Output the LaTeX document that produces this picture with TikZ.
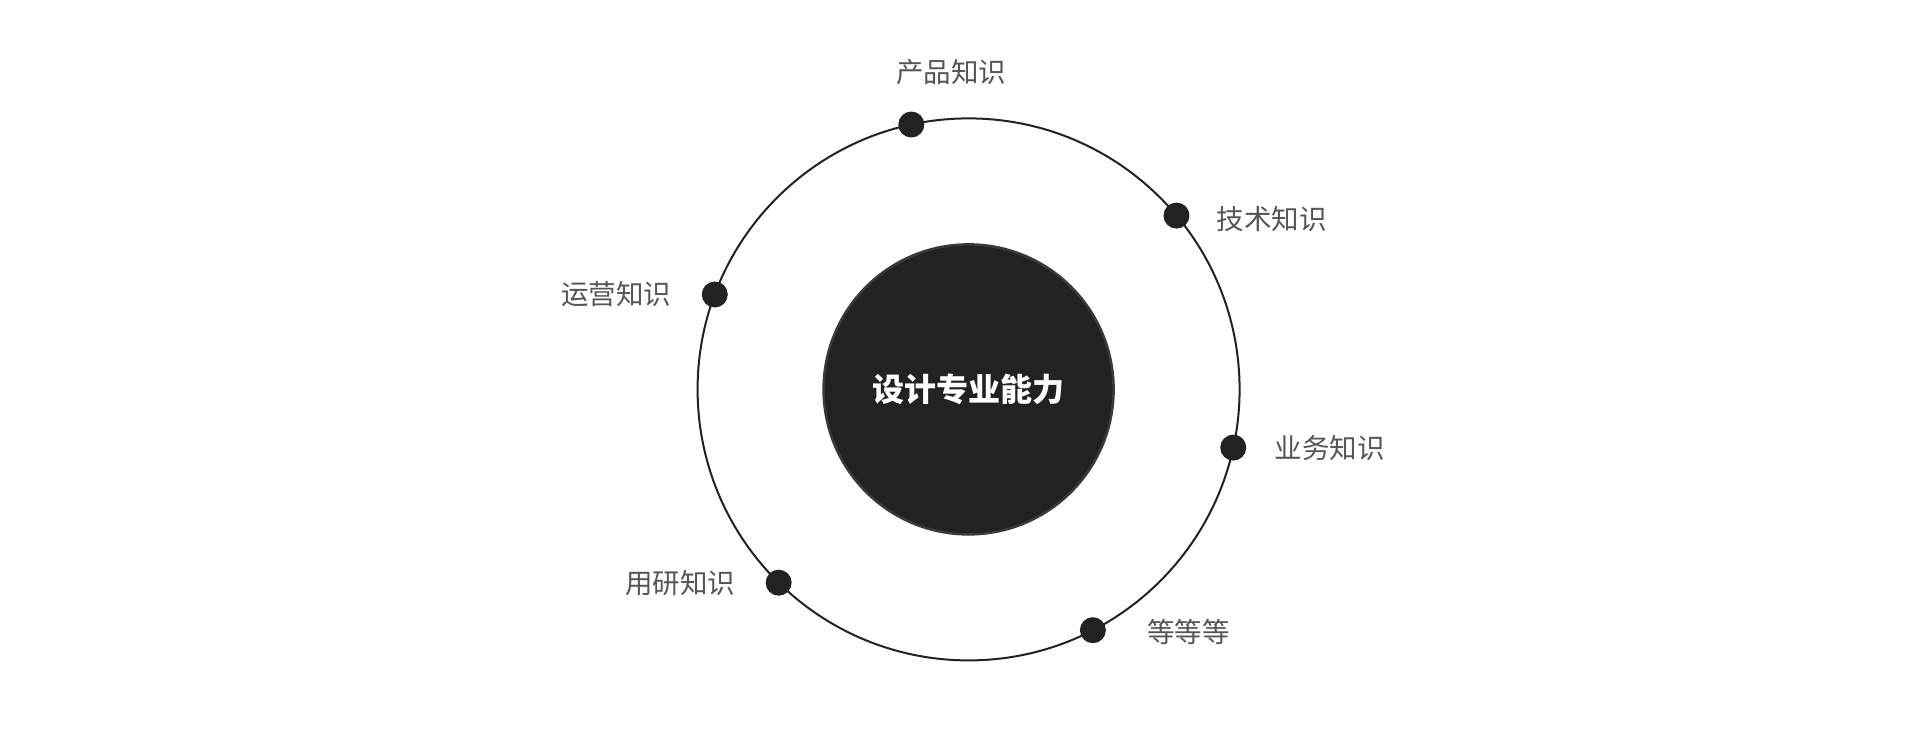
\documentclass[tikz,border=0pt]{standalone}
\usepackage{fontspec}
\newfontfamily\cjk{Noto Sans CJK SC}
\usetikzlibrary{positioning}
\definecolor{ink}{HTML}{222222}
\definecolor{rimgray}{HTML}{3A3A3A}
\definecolor{labelgray}{HTML}{555555}

\begin{document}
\begin{tikzpicture}[x=1pt, y=1pt,
    dot/.style={circle, fill=ink, minimum size=26pt, inner sep=0pt},
    topic/.style={font=\cjk\fontsize{27.5}{28}\selectfont, text=labelgray, inner sep=0pt},
    core/.style={circle, fill=ink, draw=rimgray, line width=2.5pt, minimum size=290pt,
        inner sep=0pt, text=white, font=\cjk\bfseries\fontsize{32}{33}\selectfont}]
    % ring radius
    \def\outerR{271}
    \useasboundingbox (-968.6,-360.6) rectangle (951.4,389.4);

    % outer ring
    \draw[ink, line width=2pt] (0,0) circle (\outerR);

    % core circle
    \node[core] (skill) at (0,0) {设计专业能力};

    % dots on the ring
    \node[dot] (product) at (102.2:\outerR) {};
    \node[dot] (tech) at (39.9:\outerR) {};
    \node[dot] (ops) at (159.5:\outerR) {};
    \node[dot] (biz) at (-12.4:\outerR) {};
    \node[dot] (research) at (225.5:\outerR) {};
    \node[dot] (etc) at (-62.7:\outerR) {};

    % labels
    \node[topic, above=26pt of product, xshift=40pt] (productText) {产品知识};
    \node[topic, right=27pt of tech, yshift=-3pt] (techText) {技术知识};
    \node[topic, left=30pt of ops] (opsText) {运营知识};
    \node[topic, right=28pt of biz] (bizText) {业务知识};
    \node[topic, left=30pt of research] (researchText) {用研知识};
    \node[topic, right=41pt of etc, yshift=-2pt] (etcText) {等等等};
\end{tikzpicture}
\end{document}
